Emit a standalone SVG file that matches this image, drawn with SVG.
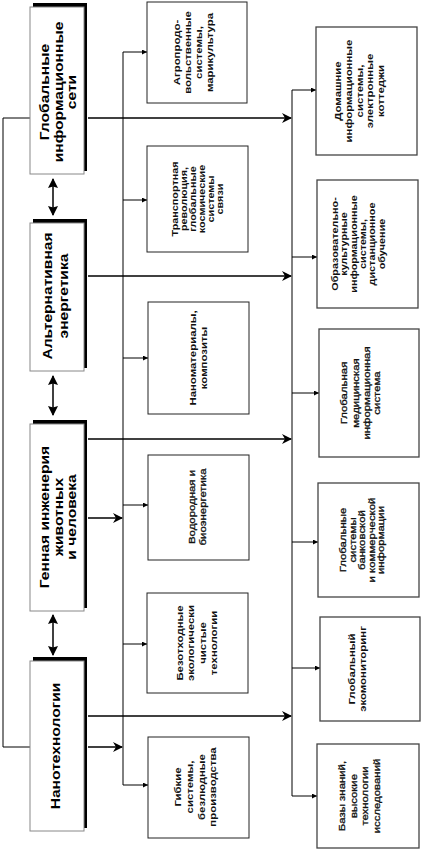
<svg xmlns="http://www.w3.org/2000/svg" width="422" height="850" viewBox="0 0 422 850">
<style>
.bg{fill:#fff}
.mbox{fill:#fff;stroke:#888;stroke-width:1}
.sh{fill:#000}
.box{fill:#fff;stroke:#222;stroke-width:1}
.rbox{fill:#fff;stroke:#444;stroke-width:1.3}
.m{font-family:"Liberation Sans",Arial,sans-serif;font-weight:bold;font-size:13px;fill:#000}
.s{font-family:"Liberation Sans",Arial,sans-serif;font-weight:bold;font-size:9.5px;fill:#111}
.t{font-family:"Liberation Sans",Arial,sans-serif;font-weight:bold;font-size:9px;fill:#111}
.r{font-family:"Liberation Sans",Arial,sans-serif;font-weight:normal;font-size:9.5px;fill:#111;stroke:#111;stroke-width:0.3}
.ln{fill:none;stroke:#000;stroke-width:1}
.th{fill:none;stroke:#000;stroke-width:1.5}
</style>
<defs>
<marker id="big" viewBox="0 0 10 10" refX="9" refY="5" markerWidth="10" markerHeight="10" markerUnits="userSpaceOnUse" orient="auto">
<path d="M0,0 L10,5 L0,10 L3,5 z" fill="#000"/>
</marker>
<marker id="big2" viewBox="0 0 10 10" refX="9" refY="5" markerWidth="10" markerHeight="10" markerUnits="userSpaceOnUse" orient="auto-start-reverse">
<path d="M0,0 L10,5 L0,10 L1.5,5 z" fill="#000"/>
</marker>
<marker id="sm" viewBox="0 0 10 10" refX="10" refY="5" markerWidth="5" markerHeight="5" markerUnits="userSpaceOnUse" orient="auto">
<path d="M0,0 L10,5 L0,10 z" fill="#000"/>
</marker>
</defs>
<rect class="bg" x="0" y="0" width="422" height="850"/>

<g id="connectors">
<polyline class="ln" points="30,118 3,118 3,747 30,747"/>
<line class="th" x1="53" y1="179" x2="53" y2="215" marker-start="url(#big2)" marker-end="url(#big2)"/>
<line class="th" x1="53" y1="376" x2="53" y2="415" marker-start="url(#big2)" marker-end="url(#big2)"/>
<line class="th" x1="53" y1="615" x2="53" y2="655" marker-start="url(#big2)" marker-end="url(#big2)"/>
<line class="ln" x1="123" y1="52" x2="123" y2="785"/>
<line class="ln" x1="292" y1="90" x2="292" y2="796"/>
<line class="th" x1="88" y1="118" x2="291" y2="118" marker-end="url(#big)"/>
<line class="th" x1="88" y1="276" x2="291" y2="276" marker-end="url(#big)"/>
<line class="th" x1="88" y1="439" x2="291" y2="439" marker-end="url(#big)"/>
<line class="th" x1="88" y1="716" x2="291" y2="716" marker-end="url(#big)"/>
<line class="th" x1="88" y1="518" x2="122" y2="518" marker-end="url(#big)"/>
<line class="th" x1="88" y1="747" x2="122" y2="747" marker-end="url(#big)"/>
<line class="ln" x1="123" y1="52" x2="147" y2="52" marker-end="url(#sm)"/>
<line class="ln" x1="123" y1="200" x2="147" y2="200" marker-end="url(#sm)"/>
<line class="ln" x1="123" y1="358" x2="148" y2="358" marker-end="url(#sm)"/>
<line class="ln" x1="123" y1="505" x2="148" y2="505" marker-end="url(#sm)"/>
<line class="ln" x1="123" y1="644" x2="147" y2="644" marker-end="url(#sm)"/>
<line class="ln" x1="123" y1="785" x2="148" y2="785" marker-end="url(#sm)"/>
<line class="ln" x1="292" y1="90" x2="316" y2="90" marker-end="url(#sm)"/>
<line class="ln" x1="292" y1="257" x2="317" y2="257" marker-end="url(#sm)"/>
<line class="ln" x1="292" y1="393" x2="319" y2="393" marker-end="url(#sm)"/>
<line class="ln" x1="292" y1="542" x2="318" y2="542" marker-end="url(#sm)"/>
<line class="ln" x1="292" y1="668" x2="320" y2="668" marker-end="url(#sm)"/>
<line class="ln" x1="292" y1="796" x2="317" y2="796" marker-end="url(#sm)"/>
</g>

<g id="n-global-nets">
<rect class="sh" x="33" y="3" width="54" height="168"/>
<rect class="mbox" x="30" y="7" width="54" height="167"/>
<g transform="translate(57,92) rotate(-90) scale(1.2,1)"><text class="m" text-anchor="middle"><tspan x="0" y="-8">Глобальные</tspan><tspan x="0" y="6">информационные</tspan><tspan x="0" y="19">сети</tspan></text></g>
</g>
<g id="n-alt-energy">
<rect class="sh" x="33" y="219" width="54" height="149"/>
<rect class="mbox" x="30" y="223" width="54" height="148"/>
<g transform="translate(57,296) rotate(-90) scale(1.2,1)"><text class="m" text-anchor="middle"><tspan x="0" y="-5">Альтернативная</tspan><tspan x="0" y="11">энергетика</tspan></text></g>
</g>
<g id="n-genetic">
<rect class="sh" x="33" y="420" width="54" height="188"/>
<rect class="mbox" x="30" y="424" width="54" height="187"/>
<g transform="translate(57,517) rotate(-90) scale(1.2,1)"><text class="m" text-anchor="middle"><tspan x="0" y="-8">Генная инженерия</tspan><tspan x="0" y="5.5">животных</tspan><tspan x="0" y="19">и человека</tspan></text></g>
</g>
<g id="n-nano">
<rect class="sh" x="33" y="657" width="54" height="171"/>
<rect class="mbox" x="30" y="661" width="54" height="170"/>
<g transform="translate(57,746) rotate(-90) scale(1.2,1)"><text class="m" text-anchor="middle"><tspan x="0" y="2.5">Нанотехнологии</tspan></text></g>
</g>

<g id="n-agro">
<rect class="box" x="147" y="2" width="100" height="101"/>
<g transform="translate(197,52.5) rotate(-90) scale(1.2,1)"><text class="s" text-anchor="middle"><tspan x="0" y="-16.7">Агропродо-</tspan><tspan x="0" y="-5.7">вольственные</tspan><tspan x="0" y="4.8">системы,</tspan><tspan x="0" y="15.8">марикультура</tspan></text></g>
</g>
<g id="n-transport">
<rect class="box" x="147" y="146" width="101" height="106"/>
<g transform="translate(197,199) rotate(-90) scale(1.2,1)"><text class="t" text-anchor="middle"><tspan x="0" y="-18.9">Транспортная</tspan><tspan x="0" y="-9.9">революция,</tspan><tspan x="0" y="-0.9">глобальные</tspan><tspan x="0" y="8.1">космические</tspan><tspan x="0" y="17.1">системы</tspan><tspan x="0" y="26.1">связи</tspan></text></g>
</g>
<g id="n-nanomat">
<rect class="box" x="148" y="302" width="101" height="112"/>
<g transform="translate(198,358) rotate(-90) scale(1.2,1)"><text class="s" text-anchor="middle"><tspan x="0" y="-1.7">Наноматериалы,</tspan><tspan x="0" y="9.3">композиты</tspan></text></g>
</g>
<g id="n-hydrogen">
<rect class="box" x="148" y="455" width="101" height="105"/>
<g transform="translate(198,507) rotate(-90) scale(1.2,1)"><text class="r" text-anchor="middle"><tspan x="0" y="-2.7">Водородная и</tspan><tspan x="0" y="8.3">биоэнергетика</tspan></text></g>
</g>
<g id="n-waste-free">
<rect class="box" x="147" y="593" width="101" height="100"/>
<g transform="translate(197,643) rotate(-90) scale(1.2,1)"><text class="s" text-anchor="middle"><tspan x="0" y="-14.2">Безотходные</tspan><tspan x="0" y="-2.7">экологически</tspan><tspan x="0" y="8.8">чистые</tspan><tspan x="0" y="20.3">технологии</tspan></text></g>
</g>
<g id="n-flexible">
<rect class="box" x="148" y="737" width="101" height="101"/>
<g transform="translate(198,787) rotate(-90) scale(1.2,1)"><text class="s" text-anchor="middle"><tspan x="0" y="-16.7">Гибкие</tspan><tspan x="0" y="-4.7">системы,</tspan><tspan x="0" y="7.3">безлюдные</tspan><tspan x="0" y="18.3">производства</tspan></text></g>
</g>

<g id="n-home">
<rect class="rbox" x="316" y="27" width="101" height="128"/>
<g transform="translate(366,91) rotate(-90) scale(1.2,1)"><text class="s" text-anchor="middle"><tspan x="0" y="-24.7">Домашние</tspan><tspan x="0" y="-13.7">информационные</tspan><tspan x="0" y="-2.7">системы,</tspan><tspan x="0" y="7.3">электронные</tspan><tspan x="0" y="18.3">коттеджи</tspan></text></g>
</g>
<g id="n-education">
<rect class="rbox" x="317" y="180" width="101" height="128"/>
<g transform="translate(367,244) rotate(-90) scale(1.2,1)"><text class="t" text-anchor="middle"><tspan x="0" y="-28.9">Образовательно-</tspan><tspan x="0" y="-19.6">культурные</tspan><tspan x="0" y="-10.3">информационные</tspan><tspan x="0" y="-1">системы,</tspan><tspan x="0" y="8.3">дистанционное</tspan><tspan x="0" y="17.6">обучение</tspan></text></g>
</g>
<g id="n-medical">
<rect class="rbox" x="319" y="329" width="100" height="128"/>
<g transform="translate(369,393) rotate(-90) scale(1.2,1)"><text class="r" text-anchor="middle"><tspan x="0" y="-21.7">Глобальная</tspan><tspan x="0" y="-9.7">медицинская</tspan><tspan x="0" y="1.3">информационная</tspan><tspan x="0" y="11.3">система</tspan></text></g>
</g>
<g id="n-banking">
<rect class="rbox" x="318" y="483" width="101" height="114"/>
<g transform="translate(368,540) rotate(-90) scale(1.2,1)"><text class="r" text-anchor="middle"><tspan x="0" y="-21.8">Глобальные</tspan><tspan x="0" y="-12.3">системы</tspan><tspan x="0" y="-2.8">банковской</tspan><tspan x="0" y="6.7">и коммерческой</tspan><tspan x="0" y="16.2">информации</tspan></text></g>
</g>
<g id="n-eco">
<rect class="rbox" x="320" y="617" width="100" height="104"/>
<g transform="translate(370,669) rotate(-90) scale(1.2,1)"><text class="s" text-anchor="middle"><tspan x="0" y="-14.7">Глобальный</tspan><tspan x="0" y="-3.7">экомониторинг</tspan></text></g>
</g>
<g id="n-knowledge">
<rect class="rbox" x="317" y="744" width="102" height="104"/>
<g transform="translate(368,796) rotate(-90) scale(1.2,1)"><text class="r" text-anchor="middle"><tspan x="0" y="-22.7">Базы знаний,</tspan><tspan x="0" y="-10.7">высокие</tspan><tspan x="0" y="0.3">технологии</tspan><tspan x="0" y="12.3">исследований</tspan></text></g>
</g>
</svg>
